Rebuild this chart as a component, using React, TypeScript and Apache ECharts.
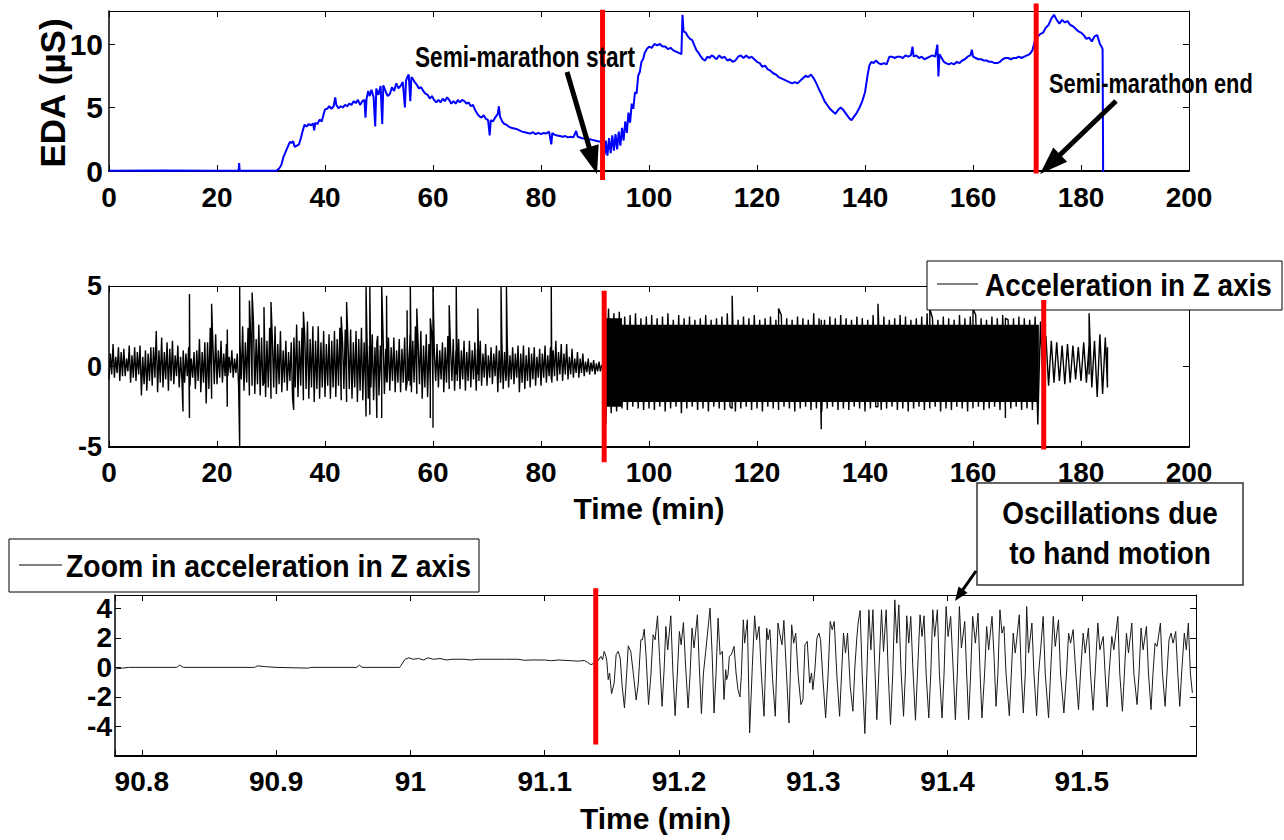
import React, { useEffect, useRef } from "react";
import * as echarts from "echarts";

// ---------- data ----------
// EDA signal: [time (min), EDA (µS)]
const edaPoints: number[][] = [
  [0,0.02],[10,0.03],[20,0.02],[24.0,0.02],[24.1,0.63],[24.2,0.02],[31.0,0.02],[31.5,0.2],[31.9,0.45],[32.3,1.1],[32.7,1.5],[33.1,1.9],[33.5,2.3],[33.8,2.2],[34.1,2.35],[34.4,1.9],[34.8,2.0],[35.2,2.1],[35.6,2.7],[35.9,3.2],[36.2,3.65],[36.6,3.5],[37.0,3.7],[37.4,3.6],[37.8,3.75],[38.0,3.2],[38.2,3.8],[38.6,3.7],[39.0,4.05],[39.4,3.9],[39.7,4.4],[40.0,4.85],[40.4,4.9],[40.8,5.1],[41.2,4.9],[41.6,5.1],[41.9,5.8],[42.1,5.2],[42.5,4.95],[42.9,5.1],[43.3,5.0],[43.7,5.2],[44.1,5.1],[44.5,5.3],[44.9,5.2],[45.3,5.5],[45.7,5.35],[46.1,5.6],[46.5,5.2],[46.9,5.5],[47.3,5.6],[47.5,4.2],[47.7,5.7],[48.0,6.3],[48.3,5.9],[48.6,6.4],[49.0,5.8],[49.3,3.5],[49.5,6.5],[49.9,6.0],[50.3,6.7],[50.6,3.7],[50.8,6.75],[51.2,6.3],[51.6,5.9],[52.0,6.05],[52.4,6.6],[52.8,6.3],[53.2,6.9],[53.6,6.5],[54.0,6.7],[54.4,7.0],[54.8,5.0],[55.0,7.1],[55.2,7.35],[55.5,7.6],[55.8,5.5],[56.0,7.4],[56.2,7.3],[56.6,7.0],[57.0,6.8],[57.4,6.5],[57.8,6.6],[58.2,6.3],[58.6,6.1],[59.0,6.0],[59.4,5.7],[59.8,5.9],[60.2,5.6],[60.6,5.4],[61.0,5.6],[61.4,5.4],[61.8,5.7],[62.2,5.5],[62.6,5.8],[63.0,5.6],[63.4,5.3],[63.8,5.5],[64.2,5.3],[64.6,5.6],[65.0,5.4],[65.4,5.6],[65.8,5.5],[66.2,5.3],[66.6,5.4],[67.0,5.1],[67.4,5.2],[67.8,4.8],[68.2,4.5],[68.6,4.3],[69.0,4.2],[69.4,4.4],[69.8,4.1],[70.2,4.0],[70.5,2.8],[70.7,4.0],[71.1,3.9],[71.5,4.2],[72.0,4.5],[72.2,5.1],[72.4,4.3],[72.8,3.9],[73.2,3.7],[73.6,3.65],[74.0,3.5],[74.5,3.4],[75.0,3.35],[75.5,3.3],[76.0,3.2],[76.5,3.1],[77.0,3.05],[77.5,3.0],[78.0,2.95],[78.5,3.05],[79.0,2.9],[79.5,3.0],[80.0,2.9],[80.5,3.0],[81.0,2.95],[81.5,3.1],[81.9,2.1],[82.1,3.0],[82.5,2.85],[83.0,2.8],[83.5,2.75],[84.0,2.7],[84.5,2.75],[85.0,2.65],[85.5,2.7],[86.0,2.65],[86.5,3.15],[86.8,2.7],[87.5,2.6],[88.0,2.55],[88.5,2.5],[89.0,2.5],[89.5,2.45],[90.0,2.4],[90.5,2.35],[91.0,2.3],[91.5,2.0],[91.8,1.3],[92.0,2.4],[92.3,1.2],[92.6,2.6],[92.9,1.4],[93.2,2.8],[93.5,1.6],[93.8,2.9],[94.1,1.7],[94.4,3.1],[94.7,2.0],[95.0,3.4],[95.3,2.4],[95.6,3.9],[95.9,3.0],[96.2,4.6],[96.5,3.8],[96.8,5.3],[97.1,4.9],[97.4,6.2],[97.7,6.1],[98.0,7.5],[98.3,7.8],[98.6,8.6],[98.9,8.8],[99.2,9.3],[99.6,9.6],[100.0,9.8],[100.5,9.7],[101.0,10.0],[101.5,9.9],[102.0,10.0],[102.5,9.8],[103.0,9.8],[103.5,9.6],[104.0,9.7],[104.5,9.5],[105.0,9.4],[105.5,9.3],[106.0,9.2],[106.2,12.3],[106.4,11.0],[106.8,10.9],[107.2,10.6],[107.6,10.4],[108.0,10.3],[108.4,9.9],[108.8,9.5],[109.2,9.3],[109.6,9.0],[110.0,8.8],[110.4,8.7],[110.8,9.0],[111.2,8.9],[111.6,9.1],[112.0,9.0],[112.5,8.8],[113.0,9.1],[113.5,8.9],[114.0,9.0],[114.5,8.7],[115.0,8.8],[115.5,8.6],[116.0,8.7],[116.5,9.0],[117.0,9.1],[117.5,8.9],[118.0,9.1],[118.5,8.9],[119.0,9.0],[119.5,8.8],[120.0,8.6],[120.5,8.5],[121.0,8.2],[121.5,8.3],[122.0,8.0],[122.5,7.9],[123.0,7.7],[123.5,7.6],[124.0,7.4],[124.5,7.3],[125.0,7.2],[125.5,7.1],[126.0,7.0],[126.5,6.9],[127.0,7.0],[127.5,6.9],[128.0,7.1],[128.5,7.3],[129.0,7.5],[129.5,7.4],[130.0,7.6],[130.5,7.3],[131.0,6.9],[131.5,6.4],[132.0,6.0],[132.5,5.5],[133.0,5.2],[133.5,4.9],[134.0,4.7],[134.5,4.5],[135.0,4.8],[135.5,5.0],[136.0,4.8],[136.5,4.5],[137.0,4.2],[137.5,4.0],[138.0,4.3],[138.5,4.6],[139.0,5.0],[139.5,5.5],[140.0,6.2],[140.5,7.6],[140.8,8.3],[141.2,8.6],[141.6,8.5],[142.0,8.7],[142.5,8.5],[143.0,8.4],[143.5,8.5],[144.0,8.4],[144.5,9.0],[145.0,9.0],[145.5,8.9],[146.0,9.0],[146.5,9.0],[147.0,8.9],[147.5,9.1],[148.0,9.0],[148.5,9.1],[148.8,9.8],[149.0,9.0],[149.5,9.1],[150.0,8.9],[150.5,9.0],[151.0,8.8],[151.5,8.9],[152.0,9.0],[152.5,9.1],[153.0,9.0],[153.4,9.95],[153.6,7.45],[153.8,9.2],[154.2,8.9],[154.6,8.6],[155.0,8.5],[155.5,8.4],[156.0,8.5],[156.5,8.4],[157.0,8.6],[157.5,8.5],[158.0,8.7],[158.5,8.8],[159.0,9.0],[159.5,9.1],[159.8,9.55],[160.0,9.0],[160.5,8.9],[161.0,8.8],[161.5,8.8],[162.0,8.7],[162.5,8.7],[163.0,8.6],[163.5,8.6],[164.0,8.5],[164.5,8.5],[165.0,8.6],[165.5,8.8],[166.0,8.9],[166.5,8.9],[167.0,8.8],[167.5,8.9],[168.0,8.9],[168.5,9.0],[169.0,8.9],[169.5,9.0],[170.0,9.1],[170.5,9.2],[171.0,9.5],[171.5,10.3],[172.0,10.6],[172.5,10.8],[173.0,10.9],[173.5,11.3],[174.0,11.5],[174.5,12.0],[175.0,12.3],[175.5,11.9],[176.0,11.6],[176.5,11.9],[177.0,11.7],[177.5,11.8],[178.0,11.5],[178.5,11.4],[179.0,11.2],[179.5,11.0],[180.0,10.9],[180.5,10.7],[181.0,10.4],[181.5,10.5],[182.0,10.2],[182.5,10.6],[183.0,10.7],[183.5,10.0],[183.8,9.8],[184.0,9.6],[184.1,0.0],[184.3,0.0]
];

// Acceleration in Z axis: per-minute upper and lower excursions (minute 0..184)
const accHigh = [
  1.4,1.2,1.1,1.3,1.2,1.3,1.0,1.2,2.2,1.8,
  1.5,1.6,1.3,1.0,1.2,0.9,1.7,1.5,2.4,2.0,
  1.6,1.4,1.0,0.8,2.5,2.4,2.8,2.6,2.7,2.4,
  2.5,2.2,1.6,1.5,2.6,2.4,2.8,2.5,2.5,2.2,
  2.0,2.2,2.4,2.3,2.3,2.2,2.4,2.2,2.0,1.9,
  2.0,1.8,1.8,1.7,1.8,2.0,2.5,2.2,2.0,2.1,
  1.4,1.5,1.9,1.7,1.7,1.6,1.6,1.5,1.6,1.4,
  1.2,1.3,1.6,1.5,1.2,1.3,1.3,1.2,1.2,1.1,
  1.3,1.2,1.6,1.4,1.4,1.1,0.9,0.8,0.5,0.4,
  0.3,0.2,3.6,3.3,3.4,3.1,3.2,3.3,3.0,3.1,
  3.2,3.0,3.1,3.3,2.9,3.2,3.0,3.1,2.9,3.0,
  3.2,2.9,3.0,3.1,3.3,3.0,2.9,3.1,3.0,3.2,
  2.9,3.0,3.1,2.9,3.2,3.0,2.9,3.1,3.0,2.9,
  3.3,3.0,2.9,3.1,3.0,3.2,3.0,2.9,3.1,3.0,
  2.9,3.2,3.0,3.1,2.9,3.0,3.2,3.1,2.9,3.0,
  3.1,3.3,3.0,2.9,3.1,3.0,2.9,3.2,3.0,3.1,
  3.2,3.0,2.9,3.1,3.0,3.2,2.9,3.0,3.1,3.0,
  2.9,3.1,2.8,1.9,1.6,1.5,1.3,1.4,1.3,1.2,
  1.5,1.4,1.6,2.0,1.8
];
const accLow = [
  -0.8,-0.7,-0.9,-0.6,-1.0,-0.9,-1.8,-1.5,-1.2,-1.6,
  -1.3,-1.5,-1.1,-1.3,-1.0,-1.2,-1.4,-1.6,-2.3,-1.8,
  -1.1,-1.0,-0.6,-0.7,-1.2,-1.5,-1.8,-1.7,-1.8,-1.9,
  -2.0,-1.7,-1.6,-1.5,-2.0,-1.9,-2.1,-2.0,-2.2,-2.0,
  -1.9,-2.0,-1.9,-2.1,-2.2,-2.0,-2.2,-2.1,-2.0,-2.1,
  -1.8,-1.7,-1.5,-1.6,-1.6,-1.5,-1.6,-1.7,-2.0,-1.9,
  -1.5,-1.3,-1.6,-1.4,-1.5,-1.4,-1.5,-1.3,-1.5,-1.2,
  -1.2,-1.1,-1.6,-1.4,-1.3,-1.1,-1.6,-1.4,-1.3,-1.2,
  -1.2,-1.0,-1.0,-0.9,-0.9,-0.8,-0.7,-0.7,-0.6,-0.5,
  -0.5,-0.3,-3.6,-2.9,-2.8,-2.6,-2.7,-2.5,-2.6,-2.7,
  -2.6,-2.7,-2.5,-2.8,-2.6,-2.5,-2.9,-2.6,-2.5,-2.7,
  -2.6,-2.8,-2.5,-2.6,-2.7,-2.5,-2.8,-2.6,-2.5,-2.7,
  -2.6,-2.8,-2.5,-2.6,-2.7,-2.5,-2.6,-2.8,-2.6,-2.5,
  -2.7,-2.6,-2.8,-2.6,-2.5,-2.7,-2.6,-2.7,-2.5,-2.6,
  -2.8,-2.6,-2.5,-2.7,-2.6,-2.5,-2.7,-2.6,-2.8,-2.6,
  -2.5,-2.7,-2.6,-2.5,-2.8,-2.6,-2.7,-2.5,-2.6,-2.8,
  -2.6,-2.5,-2.7,-2.6,-2.5,-2.7,-2.8,-2.6,-2.5,-2.7,
  -2.6,-2.7,-3.6,-1.3,-1.2,-1.0,-0.9,-1.1,-1.0,-0.8,
  -0.9,-1.0,-1.3,-1.9,-1.7
];
// intermediate excursions inside each minute before the race (minute 0..91)
const accMidHigh = [
  0.8,0.6,0.9,0.5,0.7,0.9,0.6,0.8,1.2,1.0,
  0.9,1.1,0.7,0.6,0.8,0.5,1.0,0.9,1.5,1.3,
  1.0,0.8,0.6,0.5,1.6,1.5,1.9,1.7,1.8,1.6,
  1.7,1.4,1.0,0.9,1.8,1.6,1.9,1.7,1.6,1.5,
  1.4,1.6,1.7,1.5,1.6,1.5,1.7,1.5,1.3,1.2,
  1.3,1.1,1.2,1.0,1.1,1.3,1.6,1.4,1.3,1.4,
  0.9,1.0,1.2,1.1,1.0,1.0,0.9,1.0,1.1,0.8,
  0.7,0.8,1.0,0.9,0.7,0.8,0.8,0.7,0.8,0.6,
  0.8,0.7,1.0,0.9,0.8,0.6,0.5,0.5,0.3,0.25,
  0.2,0.1
];
const accMidLow = [
  -0.5,-0.4,-0.6,-0.3,-0.7,-0.5,-1.1,-0.9,-0.7,-1.0,
  -0.8,-0.9,-0.6,-0.8,-0.6,-0.7,-0.9,-1.0,-1.4,-1.1,
  -0.7,-0.6,-0.4,-0.4,-0.8,-1.0,-1.2,-1.1,-1.2,-1.3,
  -1.3,-1.1,-1.0,-0.9,-1.3,-1.2,-1.4,-1.3,-1.4,-1.3,
  -1.2,-1.3,-1.2,-1.4,-1.4,-1.3,-1.5,-1.4,-1.3,-1.4,
  -1.1,-1.0,-0.9,-1.0,-1.0,-0.9,-1.0,-1.1,-1.3,-1.2,
  -0.9,-0.8,-1.0,-0.9,-0.9,-0.8,-0.9,-0.8,-0.9,-0.7,
  -0.7,-0.6,-1.0,-0.9,-0.8,-0.7,-1.0,-0.9,-0.8,-0.7,
  -0.7,-0.6,-0.6,-0.5,-0.5,-0.5,-0.4,-0.4,-0.35,-0.3,
  -0.3,-0.2
];
// isolated spikes: [time, low, high]
const accSpikes: number[][] = [
  [13.7,-2.8,0.5],[14.9,-3.2,4.5],[19.0,-2.0,3.9],[21.9,-2.5,2.3],[24.2,-5,5],[26.0,-1.5,4.1],[26.5,-1.0,4.6],
  [28.7,-1.0,3.7],[30.0,-1.2,4.0],[34.2,-2.7,1.0],[36.0,-1.0,3.4],[43.0,-1.0,3.1],[44.0,-1.0,4.0],
  [47.6,-3.1,5],[48.3,-3.0,5],[49.6,-3.2,1.5],[50.5,-3.2,5],[51.4,-1.0,4.4],[55.2,-1.0,3.5],[55.8,-1.2,5],
  [57.0,-1.0,3.6],[59.5,-3.2,3.0],[60.0,-3.8,5],[63.0,-1.0,3.8],[64.3,-0.5,5],[68.3,-0.5,3.6],
  [72.6,-0.5,5],[73.6,-0.5,5],[81.9,-0.8,5],[115.4,-2.6,4.4],[124.0,-2.6,3.6],[131.9,-3.9,2.9],
  [142.4,-2.5,3.9],[152.0,-2.6,3.6],[160.0,-2.6,3.6],[166.0,-3.2,3.0],[181.5,-0.5,3.3],[184.9,-1.3,1.2]
];
// saturated (solid) part of the acceleration trace during the race: [start, end, low, high]
const accDenseBands: number[][] = [
  [91.7,95.0,-2.5,3.0],[95.0,172.2,-2.2,2.6]
];

// zoom on acceleration: [time (min), acceleration]
const zoomPoints: number[][] = [
  [90.781,-0.1],[90.79,0.0],[90.826,0.0],[90.828,0.15],[90.831,0.0],[90.884,0.0],[90.886,0.1],[90.892,0.05],[90.9,0.0],[90.924,-0.05],[90.926,0.0],[90.96,0.0],[90.962,0.15],[90.964,0.0],[90.992,0.0],[90.996,0.55],[90.999,0.65],[91.002,0.55],[91.006,0.6],[91.01,0.5],[91.013,0.65],[91.017,0.55],[91.022,0.6],[91.027,0.5],[91.031,0.55],[91.04,0.55],[91.045,0.5],[91.05,0.55],[91.06,0.55],[91.07,0.55],[91.08,0.55],[91.085,0.48],[91.09,0.5],[91.1,0.5],[91.105,0.45],[91.11,0.5],[91.12,0.45],[91.125,0.42],
  [91.1294,0.47],[91.1319,0.34],[91.1344,0.18],[91.1369,0.29],[91.1394,0.4],[91.1418,0.74],[91.1431,0.52],[91.1443,1.08],[91.1456,0.74],[91.1463,0.4],[91.1473,-0.83],[91.1483,-0.38],[91.1498,-1.78],[91.1517,-1.06],[91.1532,0.86],[91.1547,1.08],[91.1562,0.63],[91.1577,-1.28],[91.1594,-2.75],[91.1612,-0.16],[91.1622,1.46],[91.1641,1.08],[91.1661,-0.5],[91.1681,-2.2],[91.1696,-1.17],[91.1716,1.87],[91.1728,1.87],[91.1741,2.59],[91.1755,0.74],[91.1773,-2.52],[91.179,-0.61],[91.1807,2.21],[91.1822,1.87],[91.184,3.49],[91.1855,0.74],[91.1874,-2.64],[91.1889,-0.16],[91.1902,2.77],[91.1916,1.19],[91.1939,3.49],[91.1954,-0.16],[91.1971,-3.27],[91.1988,-0.38],[91.2003,2.43],[91.2016,1.53],[91.2033,3.04],[91.2048,0.29],[91.2068,-2.75],[91.2083,-0.38],[91.2097,2.66],[91.2112,1.31],[91.2137,3.56],[91.2149,0.52],[91.2167,-3.13],[91.2182,-0.38],[91.2199,1.08],[91.2231,4.01],[91.2246,1.08],[91.2261,-3.09],[91.2276,-0.38],[91.2291,3.33],[91.2306,0.86],[91.2323,1.08],[91.2335,-2.18],[91.2348,-0.16],[91.2355,-0.83],[91.2365,-0.5],[91.2375,0.74],[91.239,0.86],[91.241,1.42],[91.2425,-0.38],[91.2439,-1.51],[91.2454,-2.0],[91.2464,-0.61],[91.2479,3.22],[91.2489,1.64],[91.2509,3.22],[91.2526,-4.44],[91.2546,0.07],[91.2563,3.49],[91.2578,1.87],[91.2596,2.77],[91.2613,-0.38],[91.2633,-3.31],[91.2653,2.66],[91.2663,1.87],[91.2677,2.55],[91.2697,-0.83],[91.2717,-3.31],[91.2737,3.0],[91.2752,2.21],[91.2767,1.53],[91.2781,3.18],[91.2799,-0.16],[91.2819,-3.76],
  [91.2839,2.88],[91.2854,1.64],[91.2869,2.32],[91.2888,-0.61],[91.2908,-2.52],[91.2923,-2.18],[91.2938,1.53],[91.2955,1.76],[91.2973,-1.06],[91.2987,-0.38],[91.2997,-1.51],[91.3012,-0.16],[91.3027,1.98],[91.3042,2.32],[91.3054,1.87],[91.3072,-0.83],[91.3092,-3.42],[91.3111,-0.38],[91.3126,3.11],[91.3141,2.55],[91.3156,3.11],[91.3176,-0.61],[91.3196,-3.31],[91.3211,-0.38],[91.3225,2.32],[91.324,0.97],[91.3255,2.32],[91.3275,-1.28],[91.3295,-2.97],[91.331,0.07],[91.3325,2.09],[91.3334,3.0],[91.3349,3.85],[91.3364,-0.38],[91.3384,-4.48],[91.3399,-0.38],[91.3414,3.9],[91.3429,1.19],[91.3444,3.9],[91.3458,0.07],[91.3473,-3.54],[91.3488,-0.38],[91.3508,3.9],[91.3523,1.08],[91.3543,3.9],[91.3558,-0.38],[91.3575,-3.87],[91.3592,-0.38],[91.3607,4.57],[91.3622,1.64],[91.3637,4.23],[91.3652,0.07],[91.3672,-3.31],[91.3686,-0.38],[91.3696,3.49],[91.3711,1.64],[91.3726,3.45],[91.3741,0.07],[91.3761,-3.58],[91.3776,-0.38],[91.3795,3.56],[91.381,2.09],[91.3825,3.49],[91.384,-0.38],[91.386,-3.42],[91.3875,-0.38],[91.389,3.9],[91.3904,2.09],[91.3924,3.9],[91.3939,-0.38],[91.3959,-3.42],[91.3974,-0.38],[91.3989,4.12],[91.4004,2.09],[91.4023,3.45],[91.4043,-0.38],[91.4058,-3.54],[91.4073,-0.38],[91.4088,4.12],[91.4103,1.31],[91.4128,3.11],[91.4142,-0.38],[91.4157,-3.54],[91.4172,-0.38],[91.4187,3.45],[91.4207,1.64],[91.4227,3.67],[91.4242,-0.38],[91.4256,-3.42],[91.4276,-0.38],[91.4291,2.77],
  [91.4306,1.19],[91.4331,3.45],[91.4346,0.74],[91.4361,-2.64],[91.4375,-0.38],[91.439,3.9],[91.4405,2.32],[91.442,2.77],[91.4435,-0.38],[91.446,-3.27],[91.4475,-0.38],[91.4489,2.32],[91.4504,0.97],[91.4534,3.56],[91.4549,-0.38],[91.4564,-3.09],[91.4579,-0.38],[91.4589,4.12],[91.4603,0.97],[91.4628,3.0],[91.4643,-0.38],[91.4663,-3.27],[91.4678,-0.38],[91.4693,1.19],[91.4712,3.45],[91.4727,-0.38],[91.4752,-3.42],[91.4767,-0.38],[91.4787,3.45],[91.4802,1.42],[91.4826,3.22],[91.4841,-0.38],[91.4866,-3.09],[91.4886,-0.38],[91.4901,2.32],[91.4916,1.64],[91.4935,2.55],[91.4955,-0.38],[91.4975,-2.86],[91.499,-0.38],[91.501,2.32],[91.5025,0.97],[91.5049,2.66],[91.5064,-0.38],[91.5084,-2.91],[91.5099,-0.38],[91.5119,3.0],[91.5134,1.19],[91.5159,2.09],[91.5173,-0.38],[91.5188,-2.68],[91.5203,-0.38],[91.5223,2.09],[91.5238,1.19],[91.5268,3.45],[91.5282,-0.38],[91.5302,-2.97],[91.5317,-0.38],[91.5332,2.32],[91.5347,0.97],[91.5372,3.0],[91.5387,-0.38],[91.5411,-2.52],[91.5426,-0.38],[91.5441,2.66],[91.5456,1.19],[91.5481,2.77],[91.5496,-0.38],[91.5515,-2.86],[91.553,-0.38],[91.5545,1.64],[91.556,1.42],[91.5585,3.0],[91.56,-0.38],[91.562,-2.64],[91.5634,-0.38],[91.5649,1.87],[91.5664,2.32],[91.5679,1.64],[91.5699,2.43],[91.5714,-0.38],[91.5729,-2.64],[91.5743,-0.38],[91.5763,2.32],[91.5778,1.19],[91.5793,3.0],[91.5808,-0.38],[91.5823,-1.73]
];

// event markers (min)
const raceStartEda = 91.4;
const raceEndEda = 171.7;
const raceStartAcc = 91.7;
const raceEndAcc = 173.1;
const raceStartZoom = 91.138;

const SANS = "'Liberation Sans', Arial, Helvetica, sans-serif";

function arrow(x1: number, y1: number, x2: number, y2: number, lw: number, hl: number, hw: number) {
  const dx = x2 - x1, dy = y2 - y1;
  const L = Math.hypot(dx, dy);
  const ux = dx / L, uy = dy / L;
  const bx = x2 - ux * hl, by = y2 - uy * hl;
  const px = -uy, py = ux;
  return [
    { type: "line", z: 30, shape: { x1, y1, x2: bx + ux * 2, y2: by + uy * 2 }, style: { stroke: "#000", lineWidth: lw } },
    { type: "polygon", z: 30, shape: { points: [[x2, y2], [bx + px * hw / 2, by + py * hw / 2], [bx - px * hw / 2, by - py * hw / 2]] }, style: { fill: "#000" } },
  ];
}

function label(text: string, x: number, y: number, size: number, scaleX: number, align: string, z = 30) {
  return {
    type: "text", x, y, scaleX, z,
    style: { text, fill: "#000", fontFamily: SANS, fontWeight: "bold", fontSize: size, align, verticalAlign: "middle" },
  };
}

const tickLabel = (size: number, extra: any = {}) => ({
  color: "#000", fontWeight: "bold", fontFamily: SANS, fontSize: size, ...extra,
});
const blank = { show: false };

function xPair(grid: number, min: number, max: number, lab: any, extra: any = {}, name?: string, nameGap?: number) {
  const common = { gridIndex: grid, type: "value", min, max, splitLine: blank, ...extra };
  return [
    {
      ...common, position: "bottom",
      axisLine: { show: true, onZero: false, lineStyle: { color: "#000", width: 2 } },
      axisTick: { show: true, inside: true, length: 6, lineStyle: { color: "#000", width: 1 } },
      axisLabel: lab,
      name, nameLocation: "middle", nameGap,
      nameTextStyle: { color: "#000", fontWeight: "bold", fontFamily: SANS, fontSize: 30 },
    },
    {
      ...common, position: "top",
      axisLine: { show: true, onZero: false, lineStyle: { color: "#000", width: 1 } },
      axisTick: { show: true, inside: true, length: 6, lineStyle: { color: "#000", width: 1 } },
      axisLabel: blank,
    },
  ];
}
function yPair(grid: number, min: number, max: number, interval: number, lab: any) {
  const common = { gridIndex: grid, type: "value", min, max, interval, splitLine: blank };
  return [
    {
      ...common, position: "left",
      axisLine: { show: true, onZero: false, lineStyle: { color: "#000", width: 1.5 } },
      axisTick: { show: true, inside: true, length: 6, lineStyle: { color: "#000", width: 1 } },
      axisLabel: lab,
    },
    {
      ...common, position: "right",
      axisLine: { show: true, onZero: false, lineStyle: { color: "#000", width: 1 } },
      axisTick: { show: true, inside: true, length: 6, lineStyle: { color: "#000", width: 1 } },
      axisLabel: blank,
    },
  ];
}

function redLine(xAxisIndex: number, yAxisIndex: number, t: number, y0: number, y1: number) {
  return {
    type: "line", xAxisIndex, yAxisIndex, clip: false, silent: true, z: 10,
    symbol: "none", data: [[t, y0], [t, y1]],
    lineStyle: { color: "#ff0000", width: 5, cap: "butt" },
  };
}

export default function App() {
  const ref = useRef<HTMLDivElement>(null);
  useEffect(() => {
    const chart = echarts.init(ref.current!, null, { renderer: "svg" });

    const accPoints: number[][] = [];
    accHigh.forEach((h, i) => {
      accPoints.push([i, accLow[i]]);
      if (i < accMidHigh.length) {
        accPoints.push([i + 0.25, accMidHigh[i]]);
        accPoints.push([i + 0.5, accMidLow[i]]);
        accPoints.push([i + 0.75, h]);
      } else {
        accPoints.push([i + 0.5, h]);
      }
    });
    accSpikes.forEach(([t, lo, hi]) => {
      accPoints.push([t, lo]);
      accPoints.push([t, hi]);
    });
    accPoints.sort((a, b) => a[0] - b[0]);

    const option: any = {
      animation: false,
      backgroundColor: "#fff",
      textStyle: { fontFamily: SANS },
      grid: [
        { left: 109, top: 11, width: 1080, height: 160, outerBoundsMode: "none" },
        { left: 109, top: 286, width: 1080, height: 161, outerBoundsMode: "none" },
        { left: 115, top: 595, width: 1081, height: 161, outerBoundsMode: "none" },
      ],
      xAxis: [
        ...xPair(0, 0, 200, tickLabel(28, { margin: 12 }), { interval: 20 }),
        ...xPair(1, 0, 200, tickLabel(28, { margin: 11 }), { interval: 20 }, "Time (min)", 46),
        ...xPair(2, 90.78, 91.585,
          tickLabel(28, {
            margin: 11,
            formatter: (v: number) => (Math.abs(v * 10 - Math.round(v * 10)) < 1e-6 ? String(Math.round(v * 10) / 10) : ""),
          }),
          { splitNumber: 8, minInterval: 0.1, maxInterval: 0.1 }, "Time (min)", 47),
      ],
      yAxis: [
        ...yPair(0, 0, 12.6, 5, tickLabel(30, { margin: 6, formatter: (v: number) => (v % 5 === 0 ? String(v) : "") })),
        ...yPair(1, -5, 5, 5, tickLabel(27, { margin: 7 })),
        ...yPair(2, -6, 4.9, 2, tickLabel(28, { margin: 3, formatter: (v: number) => (v >= -4 && v <= 4 && v % 2 === 0 ? String(v) : "") })),
      ],
      series: [
        {
          name: "EDA", type: "line", xAxisIndex: 0, yAxisIndex: 0, data: edaPoints,
          showSymbol: false, symbol: "none", z: 3,
          lineStyle: { color: "#0000ff", width: 2 },
        },
        redLine(0, 0, raceStartEda, -0.7, 12.7),
        redLine(0, 0, raceEndEda, -0.2, 13.2),
        {
          name: "Acceleration dense", type: "custom", xAxisIndex: 2, yAxisIndex: 2, data: accDenseBands, z: 2,
          renderItem: (params: any, api: any) => {
            const p0 = api.coord([api.value(0), api.value(3)]);
            const p1 = api.coord([api.value(1), api.value(2)]);
            return { type: "rect", shape: { x: p0[0], y: p0[1], width: p1[0] - p0[0], height: p1[1] - p0[1] }, style: { fill: "#000" } };
          },
        },
        {
          name: "Acceleration in Z axis", type: "line", xAxisIndex: 2, yAxisIndex: 2, data: accPoints,
          showSymbol: false, symbol: "none", z: 3,
          lineStyle: { color: "#000", width: 1.4 },
        },
        redLine(2, 2, raceStartAcc, -5.95, 4.7),
        redLine(2, 2, raceEndAcc, -5.15, 4.13),
        {
          name: "Zoom in acceleration in Z axis", type: "line", xAxisIndex: 4, yAxisIndex: 4, data: zoomPoints,
          showSymbol: false, symbol: "none", z: 3,
          lineStyle: { color: "#1a1a1a", width: 1 },
        },
        redLine(4, 4, raceStartZoom, -5.22, 5.36),
      ],
      graphic: [
        {
          type: "text", x: 52, y: 93, rotation: Math.PI / 2, z: 30,
          style: { text: "EDA (µS)", fill: "#000", fontFamily: SANS, fontWeight: "bold", fontSize: 35, align: "center", verticalAlign: "middle" },
        },
        label("Semi-marathon start", 415, 57, 29, 0.78, "left"),
        ...arrow(567, 72, 597, 174, 5, 28, 20),
        label("Semi-marathon end", 1049, 83, 28, 0.78, "left"),
        ...arrow(1116, 101, 1040, 174, 5, 28, 20),
        // legend of the middle panel
        { type: "rect", z: 5, shape: { x: 927, y: 261, width: 355, height: 49 }, style: { fill: "#fff", stroke: "#000", lineWidth: 1 } },
        { type: "line", z: 6, shape: { x1: 937, y1: 284, x2: 978, y2: 284 }, style: { stroke: "#000", lineWidth: 1 } },
        label("Acceleration in Z axis", 985, 285, 31, 0.9, "left", 6),
        // legend of the bottom panel
        { type: "rect", z: 5, shape: { x: 9, y: 539, width: 470, height: 53 }, style: { fill: "#fff", stroke: "#000", lineWidth: 1 } },
        { type: "line", z: 6, shape: { x1: 19, y1: 565, x2: 62, y2: 565 }, style: { stroke: "#000", lineWidth: 1 } },
        label("Zoom in acceleration in Z axis", 66, 566, 31, 0.915, "left", 6),
        // oscillation annotation
        { type: "rect", z: 5, shape: { x: 977, y: 483, width: 266, height: 102 }, style: { fill: "#fff", stroke: "#333", lineWidth: 1.5 } },
        label("Oscillations due", 1110, 513, 31, 0.9, "center", 6),
        label("to hand motion", 1110, 553, 31, 0.9, "center", 6),
        ...arrow(976, 571, 955, 601, 3, 14, 11),
      ],
    };
    chart.setOption(option);
    return () => chart.dispose();
  }, []);
  return <div ref={ref} style={{ position: "absolute", left: 0, top: 0, width: 1284, height: 840, background: "#fff" }} />;
}
